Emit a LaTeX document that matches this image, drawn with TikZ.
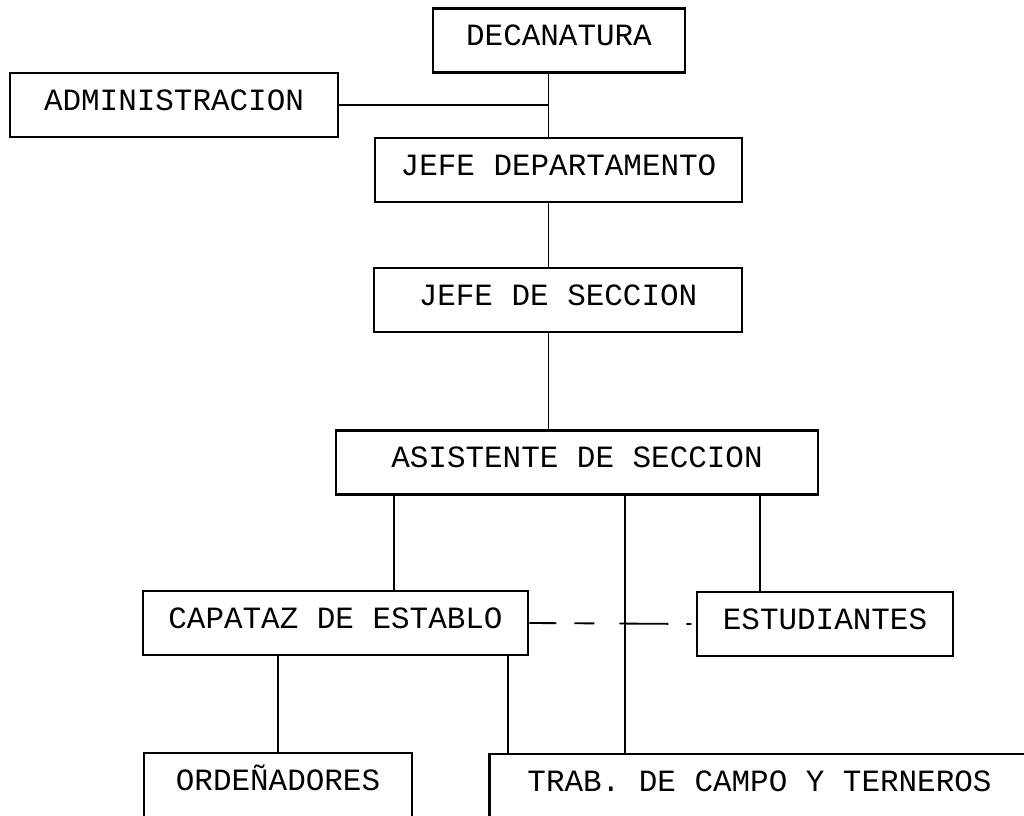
\documentclass[tikz,border=0pt]{standalone}
\usepackage{fontspec}
\setmonofont{Liberation Mono}
\usetikzlibrary{calc}

\tikzset{
  cargo/.style={draw, line width=1.6pt, inner sep=0pt, minimum height=1.6cm,
    font=\ttfamily\fontsize{22}{22}\selectfont, text height=14.5pt, text depth=7pt},
  enlace/.style={line width=1.3pt},
}

\begin{document}
\begin{tikzpicture}[x=0.025cm, y=-0.025cm]
	%%%%% START %%%%%
	\useasboundingbox (0,0) rectangle (1024,815);
	\clip (0,0) rectangle (1024,815);
	
	\node[cargo, minimum width=6.3cm] (deca) at (559, 40.5) {DECANATURA};
	\node[cargo, minimum width=8.2cm] (admin) at (174, 105) {ADMINISTRACION};
	\node[cargo, minimum width=9.18cm] (jefedep) at (558.5, 170) {JEFE DEPARTAMENTO};
	\node[cargo, minimum width=9.2cm] (jefesec) at (558, 300) {JEFE DE SECCION};
	\node[cargo, minimum width=12.05cm] (asist) at (577, 462.5) {ASISTENTE DE SECCION};
	\node[cargo, minimum width=9.63cm] (capataz) at (335.5, 623) {CAPATAZ DE ESTABLO};
	\node[cargo, minimum width=6.4cm] (estud) at (825, 624) {ESTUDIANTES};
	\node[cargo, minimum width=6.7cm] (orden) at (278, 785) {ORDEÑADORES};
	\node[cargo, minimum width=13.5cm] (trab) at (759.5, 786) {TRAB. DE CAMPO Y TERNEROS};
	
	\coordinate (tronco) at (548.5, 0);
	\coordinate (ramaA) at (394, 0);
	\coordinate (ramaB) at (625, 0);
	\coordinate (ramaC) at (760, 0);
	\coordinate (ramaD) at (278, 0);
	\coordinate (ramaE) at (508, 0);
	
	\draw[enlace] (deca.south -| tronco) -- (jefedep.north -| tronco);
	\draw[enlace] (admin.east) -- (admin.east -| tronco);
	\draw[enlace] (jefedep.south -| tronco) -- (jefesec.north -| tronco);
	\draw[enlace] (jefesec.south -| tronco) -- (asist.north -| tronco);
	
	\draw[enlace] (asist.south -| ramaA) -- (capataz.north -| ramaA);
	\draw[enlace] (asist.south -| ramaB) -- (trab.north -| ramaB);
	\draw[enlace] (asist.south -| ramaC) -- (estud.north -| ramaC);
	
	\draw[enlace] (capataz.south -| ramaD) -- (orden.north -| ramaD);
	\draw[enlace] (capataz.south -| ramaE) -- (trab.north -| ramaE);
	
	\draw[enlace, dash pattern=on 0.675cm off 0.45cm on 0.5cm off 0.625cm on 1.225cm off 0.45cm on 0.125cm off 0.25cm] (capataz.east) -- (estud.west);
	%%%%% END %%%%%
\end{tikzpicture}
\end{document}
